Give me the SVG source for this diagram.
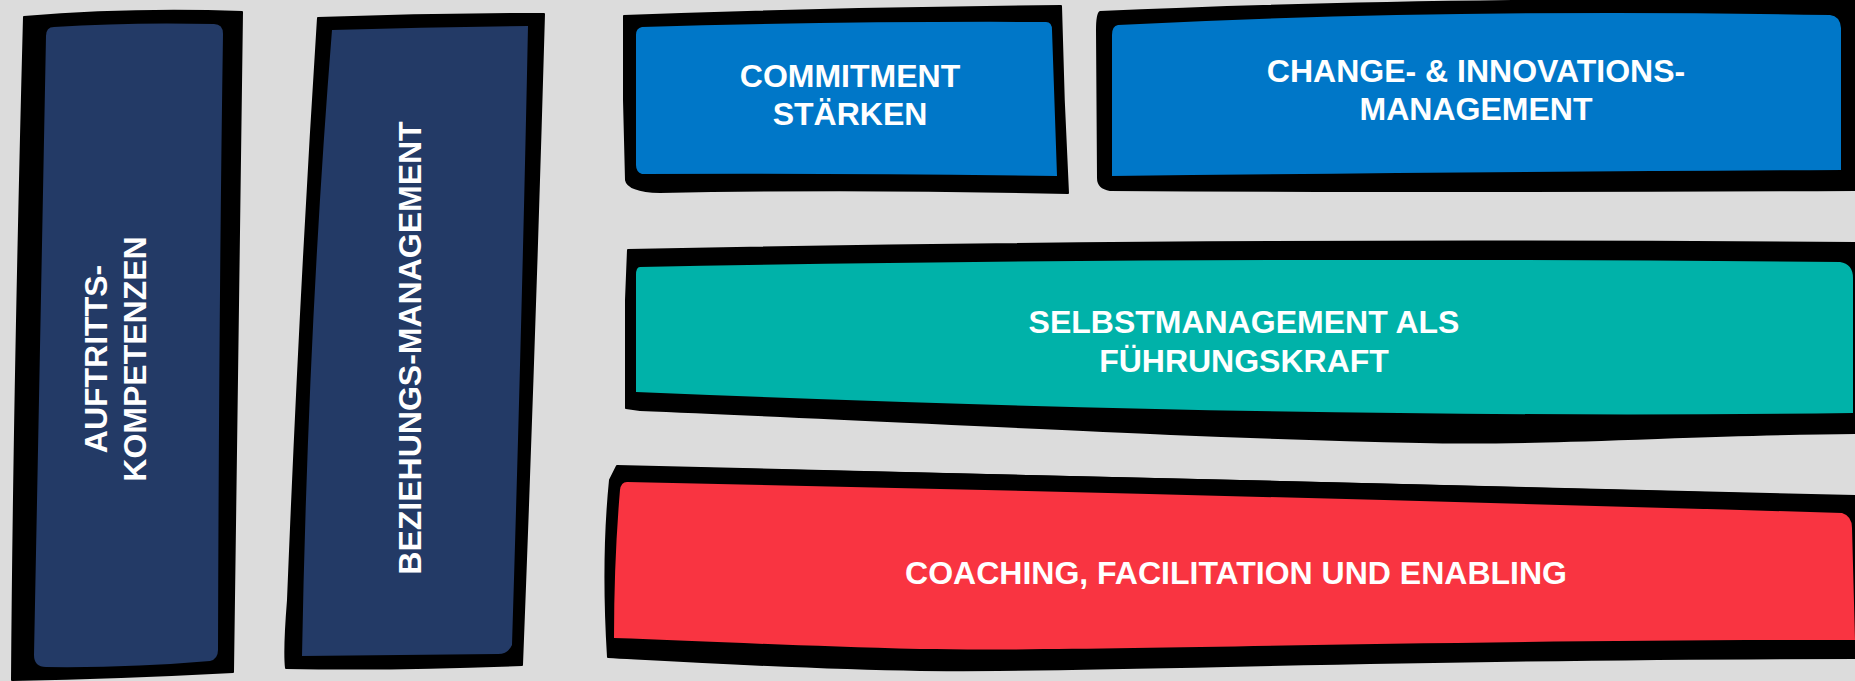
<svg xmlns="http://www.w3.org/2000/svg" width="1855" height="681" viewBox="0 0 1855 681">
<style>
.frame{fill:#000;stroke:#000;stroke-width:2;stroke-linejoin:round}
.navy{fill:#233A66}
.blue{fill:#0077C8}
.teal{fill:#00B2A9}
.red{fill:#F93441}
.lbl{font-family:"Liberation Sans",Arial,sans-serif;font-weight:bold;font-size:32px;fill:#fff;text-anchor:middle}
</style>
<rect width="1855" height="681" fill="#DCDCDC"/>
<g id="connectors"/>
<g id="auftritts">
<path class="frame" d="M24,17 Q130,8 242,12 Q238,300 233,672 Q120,678 12,680 Q14,400 24,17 Z"/>
<path class="navy" d="M54,27 Q46,27 46,36 Q40,350 34,655 Q34,667 46,667 Q130,668 210,661 Q218,659 218,650 Q219,300 223,34 Q223,24 214,24 Q130,22 54,27 Z"/>
<text class="lbl" transform="translate(107,359) rotate(-90)">AUFTRITTS-</text>
<text class="lbl" transform="translate(146,359) rotate(-90)">KOMPETENZEN</text>
</g>
<g id="beziehungs">
<path class="frame" d="M318,18 Q430,14 544,14 Q535,330 522,665 Q400,670 286,668 Q284,650 288,600 Q300,300 318,18 Z"/>
<path class="navy" d="M332,30 Q430,27 528,26 Q522,320 512,645 Q508,654 498,654 L302,656 Q308,330 332,30 Z"/>
<text class="lbl" transform="translate(421,348) rotate(-90)">BEZIEHUNGS-MANAGEMENT</text>
</g>
<g id="commitment">
<path class="frame" d="M624,16 Q840,8 1061,6 Q1063,100 1068,193 Q860,188 660,192 Q628,191 626,180 L624,100 Z"/>
<path class="blue" d="M642,27 Q850,21 1046,22 Q1052,22 1052,30 L1057,176 Q840,173 642,174 Q636,172 636,165 L636,35 Q636,28 642,27 Z"/>
<text class="lbl" x="850" y="87">COMMITMENT</text>
<text class="lbl" x="850" y="125">STÄRKEN</text>
</g>
<g id="change">
<path class="frame" d="M1100,12 Q1400,-2 1855,0 L1855,190 Q1450,192 1110,190 Q1098,188 1098,178 L1097,30 Q1097,14 1100,12 Z"/>
<path class="blue" d="M1118,25 Q1450,8 1830,15 Q1840,16 1841,28 L1841,170 Q1450,172 1112,176 L1112,35 Q1112,26 1118,25 Z"/>
<text class="lbl" x="1476" y="82">CHANGE- &amp; INNOVATIONS-</text>
<text class="lbl" x="1476" y="120">MANAGEMENT</text>
</g>
<g id="selbstmanagement">
<path class="frame" d="M628,250 Q1200,238 1855,243 L1855,433 C1700,434 1550,445 1420,442 C1150,436 900,420 640,410 L626,408 L626,300 Z"/>
<path class="teal" d="M640,267 Q1200,256 1840,262 Q1853,264 1853,278 L1853,413 Q1300,420 636,392 L636,275 Q636,267 640,267 Z"/>
<text class="lbl" x="1244" y="333">SELBSTMANAGEMENT ALS</text>
<text class="lbl" x="1244" y="372">FÜHRUNGSKRAFT</text>
</g>
<g id="coaching">
<path class="frame" d="M617,466 Q1200,478 1855,496 L1855,658 C1400,658 1100,672 920,670 C800,668 700,662 608,657 Q602,560 610,480 Z"/>
<path class="red" d="M627,482 Q1200,494 1842,513 Q1852,516 1852,528 L1855,640 C1400,640 1100,652 920,649 C800,646 700,641 614,638 Q614,560 620,490 Q621,482 627,482 Z"/>
<text class="lbl" x="1236" y="584">COACHING, FACILITATION UND ENABLING</text>
</g>
</svg>
